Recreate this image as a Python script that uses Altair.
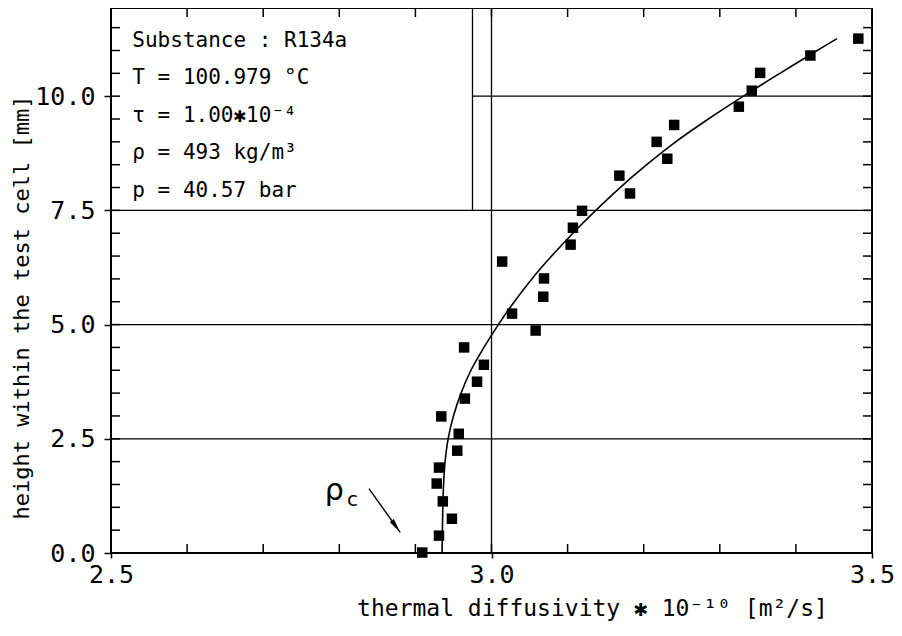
import altair as alt
import pandas as pd

SQ_X = [3.482, 3.419, 3.353, 3.342, 3.325, 3.240, 3.217, 3.231, 3.168, 3.182,
        3.119, 3.107, 3.104, 3.014, 3.069, 3.068, 3.027, 3.058, 2.964, 2.990,
        2.981, 2.965, 2.934, 2.957, 2.955, 2.931, 2.928, 2.936, 2.948, 2.931, 2.909]
SQ_Y = [11.26, 10.89, 10.51, 10.12, 9.77, 9.37, 9.00, 8.63, 8.26, 7.87,
        7.49, 7.12, 6.75, 6.38, 6.01, 5.61, 5.24, 4.87, 4.50, 4.12,
        3.75, 3.38, 2.99, 2.61, 2.24, 1.87, 1.52, 1.13, 0.75, 0.38, 0.01]

# ---- fitted curve ----
FIT_Y = [0.0, 0.5, 1.0, 1.5, 2.0, 2.5, 3.0, 3.5, 4.0, 4.5, 5.0, 5.5, 6.0, 6.5,
         7.0, 7.5, 8.0, 8.5, 9.0, 9.5, 10.0, 10.5, 11.0, 11.26]
FIT_X = [2.935, 2.9355, 2.936, 2.937, 2.939, 2.943, 2.950, 2.960, 2.973, 2.990,
         3.009, 3.030, 3.053, 3.079, 3.107, 3.137, 3.169, 3.204, 3.242, 3.285,
         3.331, 3.379, 3.428, 3.454]

# ---- axes ----
X_DOMAIN = [2.5, 3.5]
Y_DOMAIN = [0.0, 11.93]
X_LABELS = [2.5, 3.0, 3.5]
Y_LABELS = [0.0, 2.5, 5.0, 7.5, 10.0]
X_MINOR = [2.6, 2.7, 2.8, 2.9, 3.0, 3.1, 3.2, 3.3, 3.4]
Y_MINOR = [0.5, 1.0, 1.5, 2.0, 2.5, 3.0, 3.5, 4.0, 4.5, 5.0, 5.5, 6.0, 6.5, 7.0,
           7.5, 8.0, 8.5, 9.0, 9.5, 10.0, 10.5, 11.0, 11.5]

# ---- grid / box lines (data units) ----
GRID_X1 = [2.5, 2.5, 2.5, 2.975, 3.0, 2.975]
GRID_X2 = [3.5, 3.5, 3.5, 3.5, 3.0, 2.975]
GRID_Y1 = [2.5, 5.0, 7.5, 10.0, 0.0, 7.5]
GRID_Y2 = [2.5, 5.0, 7.5, 10.0, 11.93, 11.93]

# ---- info box text ----
INFO_LINES = ["Substance : R134a", "T = 100.979 °C", "τ = 1.00✱10⁻⁴",
              "ρ = 493 kg/m³", "p = 40.57 bar"]
INFO_X = [2.528, 2.528, 2.528, 2.528, 2.528]
INFO_Y = [11.08, 10.26, 9.44, 8.62, 7.80]

# ---- rho_c annotation ----
ARROW_X = [2.839, 2.880]
ARROW_Y = [1.41, 0.45]
RHO_X, RHO_Y = 2.781, 1.17
C_X, C_Y = 2.810, 1.02

W, H = 761, 545
FONT = "DejaVu Sans Mono"

xs = alt.Scale(domain=X_DOMAIN, nice=False, zero=False)
ys = alt.Scale(domain=Y_DOMAIN, nice=False, zero=False)

x_axis = alt.Axis(values=X_LABELS, format=".1f", title="thermal diffusivity ✱ 10⁻¹⁰  [m²/s]",
                  grid=False, domain=False, tickSize=5, tickWidth=1.5, tickColor="black",
                  labelFont=FONT, labelFontSize=25, labelColor="black", labelPadding=4,
                  labelFlush=False, labelOverlap=False,
                  titleFont=FONT, titleFontSize=23, titleFontWeight="normal", titleColor="black",
                  titleX=481, titleY=62, titleBaseline="alphabetic", titleAlign="center")
y_axis = alt.Axis(values=Y_LABELS, format=".1f", title="height within the test cell [mm]",
                  grid=False, domain=False, tickSize=7, tickWidth=1.5, tickColor="black",
                  labelFont=FONT, labelFontSize=25, labelColor="black", labelPadding=9,
                  labelFlush=False, labelOverlap=False,
                  titleFont=FONT, titleFontSize=22, titleFontWeight="normal", titleColor="black",
                  titleX=-83, titleY=299, titleBaseline="alphabetic", titleAlign="center")

pts = pd.DataFrame({"x": SQ_X, "y": SQ_Y})
fit = pd.DataFrame({"x": FIT_X, "y": FIT_Y})
grid = pd.DataFrame({"x": GRID_X1, "x2": GRID_X2, "y": GRID_Y1, "y2": GRID_Y2})
info = pd.DataFrame({"x": INFO_X, "y": INFO_Y, "t": INFO_LINES})
xm = pd.DataFrame({"x": X_MINOR})
ym = pd.DataFrame({"y": Y_MINOR})
arrow = pd.DataFrame({"x": [ARROW_X[0]], "y": [ARROW_Y[0]], "x2": [ARROW_X[1]], "y2": [ARROW_Y[1]]})
head = pd.DataFrame({"x": [ARROW_X[1]], "y": [ARROW_Y[1]]})
rho = pd.DataFrame({"x": [RHO_X], "y": [RHO_Y], "t": ["ρ"]})
csub = pd.DataFrame({"x": [C_X], "y": [C_Y], "t": ["c"]})

base = alt.Chart(pts).mark_square(size=110, color="black", opacity=1).encode(
    x=alt.X("x:Q", scale=xs, axis=x_axis),
    y=alt.Y("y:Q", scale=ys, axis=y_axis),
)

line = alt.Chart(fit).mark_line(color="black", strokeWidth=1.6, interpolate="catmull-rom").encode(
    x=alt.X("x:Q", scale=xs), y=alt.Y("y:Q", scale=ys), order="y:Q")

grid_rules = alt.Chart(grid).mark_rule(color="black", strokeWidth=1.3).encode(
    x=alt.X("x:Q", scale=xs), x2="x2:Q", y=alt.Y("y:Q", scale=ys), y2="y2:Q")

top_ticks = alt.Chart(xm).mark_rule(color="black", strokeWidth=1.5).encode(
    x=alt.X("x:Q", scale=xs), y=alt.value(0), y2=alt.value(9))
bot_ticks = alt.Chart(xm).mark_rule(color="black", strokeWidth=1.5).encode(
    x=alt.X("x:Q", scale=xs), y=alt.value(H - 9), y2=alt.value(H))
left_ticks = alt.Chart(ym).mark_rule(color="black", strokeWidth=1.5).encode(
    y=alt.Y("y:Q", scale=ys), x=alt.value(0), x2=alt.value(9))
right_ticks = alt.Chart(ym).mark_rule(color="black", strokeWidth=1.5).encode(
    y=alt.Y("y:Q", scale=ys), x=alt.value(W - 9), x2=alt.value(W))

info_text = alt.Chart(info).mark_text(font=FONT, fontSize=21, color="black", align="left",
                                      baseline="alphabetic").encode(
    x=alt.X("x:Q", scale=xs), y=alt.Y("y:Q", scale=ys), text="t:N")

arrow_line = alt.Chart(arrow).mark_rule(color="black", strokeWidth=1.4).encode(
    x=alt.X("x:Q", scale=xs), x2="x2:Q", y=alt.Y("y:Q", scale=ys), y2="y2:Q")
arrow_head = alt.Chart(head).mark_point(shape="M0,0L0.28,1.6L-0.28,1.6Z", filled=True,
                                        color="black", opacity=1, size=330, angle=144.8).encode(
    x=alt.X("x:Q", scale=xs), y=alt.Y("y:Q", scale=ys))

rho_text = alt.Chart(rho).mark_text(font="DejaVu Sans", fontSize=30, color="black", align="left",
                                    baseline="alphabetic").encode(
    x=alt.X("x:Q", scale=xs), y=alt.Y("y:Q", scale=ys), text="t:N")
c_text = alt.Chart(csub).mark_text(font="DejaVu Sans", fontSize=20, color="black", align="left",
                                   baseline="alphabetic").encode(
    x=alt.X("x:Q", scale=xs), y=alt.Y("y:Q", scale=ys), text="t:N")

chart = alt.layer(
    base, grid_rules, top_ticks, bot_ticks, left_ticks, right_ticks, line,
    info_text, arrow_line, arrow_head, rho_text, c_text
).properties(
    width=W, height=H,
    autosize=alt.AutoSizeParams(type="none"),
    padding={"left": 103, "top": 0, "right": 22, "bottom": 70},
    background="white",
).configure_view(stroke="black", strokeWidth=2)

chart.save("out.html", embed_options={"renderer": "svg", "actions": False})
